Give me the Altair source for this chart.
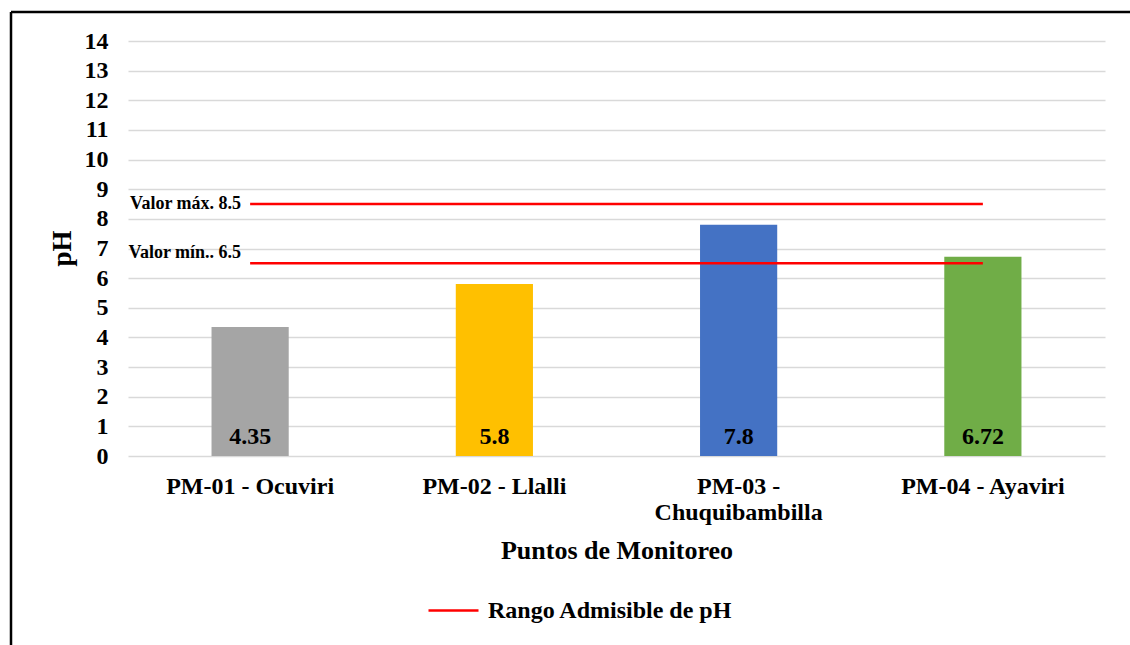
import altair as alt
import pandas as pd

puntos = ["PM-01 - Ocuviri", "PM-02 - Llalli", "PM-03 - Chuquibambilla", "PM-04 - Ayaviri"]
ph = [4.35, 5.8, 7.8, 6.72]
ph_labels = ["4.35", "5.8", "7.8", "6.72"]
colores = ["#a5a5a5", "#ffc000", "#4472c4", "#70ad47"]
y_ticks = list(range(0, 15))
limite_max = 8.5
limite_min = 6.5
texto_max = "Valor máx. 8.5"
texto_min = "Valor mín.. 6.5"
serie_rango = "Rango Admisible de pH"

FONT = "Liberation Serif"
W, H = 977, 415
PL, PT = 128, 41

bars_df = pd.DataFrame({"punto": puntos, "ph": ph, "lab": ph_labels})
rango_df = pd.DataFrame({
    "punto": [puntos[0], puntos[0]],
    "x2": [puntos[-1], puntos[-1]],
    "ph": [limite_max, limite_min],
    "serie": [serie_rango, serie_rango],
})

xscale = alt.Scale(domain=puntos, paddingInner=0.684, paddingOuter=0.342)
yscale = alt.Scale(domain=[0, 14], nice=False)

label_expr = ("datum.label == 'PM-03 - Chuquibambilla' ? ['PM-03 -', 'Chuquibambilla'] : datum.label")

xaxis = alt.Axis(title="Puntos de Monitoreo", labelAngle=0, labelExpr=label_expr,
                 labelFont=FONT, labelFontSize=24, labelFontWeight="bold", labelColor="black",
                 labelPadding=18, labelLineHeight=26, labelLimit=400,
                 titleFont=FONT, titleFontSize=26, titleFontWeight="bold", titleColor="black",
                 titleY=94, titleBaseline="middle",
                 ticks=False, domain=False, grid=False)
yaxis = alt.Axis(title="pH", values=y_ticks, format="d", labelOverlap=False,
                 labelFont=FONT, labelFontSize=24, labelFontWeight="bold", labelColor="black",
                 labelPadding=20,
                 titleFont=FONT, titleFontSize=27, titleFontWeight="bold", titleColor="black",
                 titleX=-66, titleY=207, titleAngle=270, titleAlign="center",
                 titleBaseline="middle",
                 ticks=False, domain=False, grid=True, gridColor="#d9d9d9", gridWidth=1.5)

X = alt.X("punto:N", scale=xscale, sort=puntos, axis=xaxis, title="Puntos de Monitoreo")
Y = alt.Y("ph:Q", scale=yscale, axis=yaxis, title="pH")

bars = alt.Chart(bars_df).mark_bar().encode(
    x=X, y=Y,
    color=alt.Color("punto:N", scale=alt.Scale(domain=puntos, range=colores), legend=None),
)

bar_text = alt.Chart(bars_df).mark_text(font=FONT, fontSize=24, fontWeight="bold", color="black",
                                        baseline="middle", dy=-19).encode(
    x=X,
    y=alt.Y("cero:Q", scale=yscale, axis=yaxis, title="pH"),
    text="lab:N",
).transform_calculate(cero="0")

rules = alt.Chart(rango_df).mark_rule(strokeWidth=2.5).encode(
    x=X,
    x2="x2:N",
    y=Y,
    color=alt.Color("serie:N", scale=alt.Scale(domain=[serie_rango], range=["#ff0000"]),
                    legend=alt.Legend(title=None, orient="none", legendX=299, legendY=543,
                                      symbolType="stroke", symbolSize=2500, symbolStrokeWidth=2.5,
                                      labelFont=FONT, labelFontSize=24, labelFontWeight="bold",
                                      labelColor="black", labelOffset=8, labelLimit=500, padding=0)),
)

lab_max = alt.Chart(pd.DataFrame({"punto": [puntos[0]], "ph": [limite_max], "t": [texto_max]})).mark_text(
    font=FONT, fontSize=18, fontWeight="bold", color="black", align="right", baseline="middle", dx=-9
).encode(x=X, y=Y, text="t:N")

lab_min = alt.Chart(pd.DataFrame({"punto": [puntos[0]], "ph": [limite_min], "t": [texto_min]})).mark_text(
    font=FONT, fontSize=18, fontWeight="bold", color="black", align="right", baseline="middle",
    dx=-9, dy=-10
).encode(x=X, y=Y, text="t:N")

one = pd.DataFrame({"a": [0]})
frame_left = alt.Chart(one).mark_rule(color="black", strokeWidth=2.5).encode(
    x=alt.value(-117), y=alt.value(-29), y2=alt.value(620))
frame_top = alt.Chart(one).mark_rule(color="black", strokeWidth=2.5).encode(
    x=alt.value(-117), x2=alt.value(1010), y=alt.value(-29))

chart = alt.layer(bars, bar_text, rules, lab_max, lab_min, frame_left, frame_top).resolve_scale(
    color="independent"
).properties(
    width=W, height=H,
    autosize=alt.AutoSizeParams(type="none"),
    padding={"left": PL, "top": PT, "right": 1130 - PL - W, "bottom": 645 - PT - H},
    background="white",
).configure_view(stroke=None)

chart.save("out.html", embed_options={"renderer": "svg", "actions": False})
